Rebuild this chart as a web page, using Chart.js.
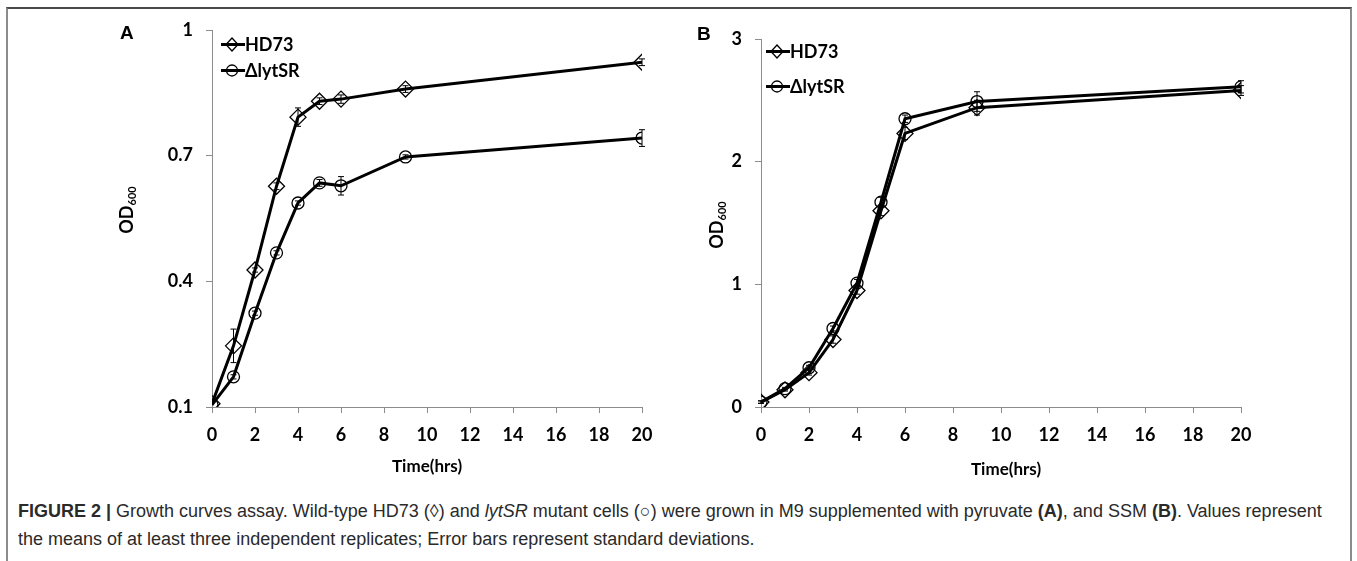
<!DOCTYPE html>
<html>
<head>
<meta charset="utf-8">
<script src="https://cdn.jsdelivr.net/npm/chart.js@4.4.1/dist/chart.umd.min.js"></script>
<style>
  body { margin: 0; width: 1357px; height: 561px; background: #fff; position: relative; overflow: hidden; font-family: "Lato", sans-serif; }
  .frame { position: absolute; left: 6px; top: 7px; width: 1342px; height: 560px; border-top: 2px solid #4a4a4a; border-left: 2px solid #8c8c8c; border-right: 2px solid #8c8c8c; }
  canvas { position: absolute; }
  .txt { position: absolute; font-weight: bold; color: #000; white-space: nowrap; }
  .letter { font-family: "Liberation Sans", Arial, sans-serif; font-size: 19px; }
  .ytitle { font-size: 18px; transform: translate(-50%, -50%) rotate(-90deg); }
  .ytitle sub { font-size: 11px; vertical-align: -3px; }
  .xtitle { font-size: 17px; transform: translate(-50%, -50%); }
  .leg { position: absolute; display: flex; align-items: center; font-weight: bold; font-size: 18px; }
  .caption { position: absolute; left: 18px; top: 497px; font-family: "Liberation Sans", Arial, sans-serif; font-size: 18px; line-height: 28px; color: #2a2a2a; width: 1335px; }
</style>
</head>
<body>
<div class="frame"></div>
<canvas id="chartA" width="570" height="460" style="left:100px;top:0px;"></canvas>
<canvas id="chartB" width="650" height="460" style="left:650px;top:0px;"></canvas>

<div class="txt letter" style="left:120px;top:22px;">A</div>
<div class="txt letter" style="left:697px;top:23px;">B</div>

<div class="txt ytitle" style="left:126px;top:210px;">OD<sub>600</sub></div>
<div class="txt ytitle" style="left:716px;top:225px;">OD<sub>600</sub></div>
<div class="txt xtitle" style="left:427px;top:465px;">Time(hrs)</div>
<div class="txt xtitle" style="left:1006px;top:468px;">Time(hrs)</div>

<div id="legA1" class="leg" style="left:221px;top:33px;"></div>
<div id="legA2" class="leg" style="left:221px;top:59px;"></div>
<div id="legB1" class="leg" style="left:766px;top:40px;"></div>
<div id="legB2" class="leg" style="left:766px;top:75px;"></div>

<div class="caption"><b>FIGURE 2 |</b> Growth curves assay. Wild-type HD73 (◊) and <i>lytSR</i> mutant cells (○) were grown in M9 supplemented with pyruvate <b>(A)</b>, and SSM <b>(B)</b>. Values represent<br>the means of at least three independent replicates; Error bars represent standard deviations.</div>

<script>
// sampling times (hrs)
const times = [0, 1, 2, 3, 4, 5, 6, 9, 20];
const seriesNames = ["HD73", "ΔlytSR"];

// panel A - pyruvate
const hd73A = [0.108, 0.246, 0.427, 0.627, 0.792, 0.830, 0.835, 0.859, 0.923];
const hd73AErr = [0, 0.04, 0.005, 0.008, 0.022, 0.008, 0.01, 0.008, 0.008];
const lytA = [0.105, 0.172, 0.324, 0.468, 0.587, 0.635, 0.628, 0.697, 0.742];
const lytAErr = [0, 0.005, 0.005, 0.005, 0.005, 0.008, 0.022, 0.005, 0.02];

// panel B - SSM
const hd73B = [0.04, 0.14, 0.28, 0.55, 0.95, 1.60, 2.23, 2.44, 2.58];
const hd73BErr = [0.01, 0.01, 0.02, 0.03, 0.03, 0.04, 0.05, 0.06, 0.04];
const lytB = [0.04, 0.15, 0.32, 0.64, 1.01, 1.67, 2.35, 2.49, 2.61];
const lytBErr = [0.01, 0.01, 0.02, 0.02, 0.03, 0.04, 0.03, 0.08, 0.05];

const xTicks = [0, 2, 4, 6, 8, 10, 12, 14, 16, 18, 20];
const yTicksA = [0.1, 0.4, 0.7, 1];
const yTicksB = [0, 1, 2, 3];

const tickFont = { family: "Lato", size: 18, weight: "bold" };

const toPoints = (ys) => times.map((t, i) => ({ x: t, y: ys[i] }));

// vertical error bars with caps
const errorBars = {
  id: "errorBars",
  afterDatasetsDraw(chart) {
    const ctx = chart.ctx;
    const ys = chart.scales.y;
    chart.data.datasets.forEach((ds, di) => {
      const meta = chart.getDatasetMeta(di);
      ctx.save();
      ctx.strokeStyle = "#000";
      ctx.lineWidth = 1;
      meta.data.forEach((pt, i) => {
        const e = ds.errors[i];
        if (!e) return;
        const v = ds.data[i].y;
        const top = ys.getPixelForValue(v + e);
        const bot = ys.getPixelForValue(v - e);
        ctx.beginPath();
        ctx.moveTo(pt.x, top); ctx.lineTo(pt.x, bot);
        ctx.moveTo(pt.x - 3, top); ctx.lineTo(pt.x + 3, top);
        ctx.moveTo(pt.x - 3, bot); ctx.lineTo(pt.x + 3, bot);
        ctx.stroke();
      });
      ctx.restore();
    });
  }
};

const makeDataset = (label, ys, errs, style, radius) => ({
  label: label,
  data: toPoints(ys),
  errors: errs,
  borderColor: "#000",
  borderWidth: 3,
  pointStyle: style,
  pointRadius: radius,
  pointBorderWidth: 1.3,
  pointBorderColor: "#000",
  pointBackgroundColor: "rgba(0,0,0,0)",
  tension: 0,
  fill: false
});

const makeChart = (id, datasets, yMin, yMax, yTicks, pad, yWidth) => {
  return new Chart(document.getElementById(id), {
    type: "line",
    data: { datasets: datasets },
    options: {
      responsive: false,
      animation: false,
      layout: { padding: pad },
      plugins: { legend: { display: false }, tooltip: { enabled: false } },
      scales: {
        x: {
          type: "linear",
          min: 0,
          max: 20,
          afterBuildTicks: (s) => { s.ticks = xTicks.map((v) => ({ value: v })); },
          afterFit: (s) => { s.height = 40; },
          ticks: { font: tickFont, color: "#000", padding: 11, maxRotation: 0 },
          grid: { drawOnChartArea: false, drawTicks: true, tickLength: 6, color: "#8c8c8c" },
          border: { color: "#8c8c8c", width: 1 }
        },
        y: {
          min: yMin,
          max: yMax,
          afterBuildTicks: (s) => { s.ticks = yTicks.map((v) => ({ value: v })); },
          afterFit: (s) => { s.width = yWidth; },
          ticks: { font: tickFont, color: "#000", padding: 13, callback: (v) => String(v) },
          grid: { drawOnChartArea: false, drawTicks: true, tickLength: 6, color: "#8c8c8c" },
          border: { color: "#8c8c8c", width: 1 }
        }
      }
    },
    plugins: [errorBars]
  });
};

makeChart("chartA", [
  makeDataset(seriesNames[0], hd73A, hd73AErr, "rectRot", 8),
  makeDataset(seriesNames[1], lytA, lytAErr, "circle", 6)
], 0.1, 1, yTicksA, { left: 0, top: 30, right: 28, bottom: 13 }, 112);

makeChart("chartB", [
  makeDataset(seriesNames[0], hd73B, hd73BErr, "rectRot", 8),
  makeDataset(seriesNames[1], lytB, lytBErr, "circle", 6)
], 0, 3, yTicksB, { left: 0, top: 39, right: 59, bottom: 13 }, 111);

// legend entries: line with marker, then name
const legendIcon = (shape) => {
  const mark = shape === "diamond"
    ? '<polygon points="11,3 17,9.5 11,16 5,9.5" fill="none" stroke="#000" stroke-width="1.3"/>'
    : '<circle cx="11" cy="9.5" r="5.5" fill="none" stroke="#000" stroke-width="1.3"/>';
  return '<svg width="24" height="19"><line x1="0" y1="9.5" x2="24" y2="9.5" stroke="#000" stroke-width="3"/>' + mark + "</svg>";
};
const fillLegend = (id, shape, name) => {
  document.getElementById(id).innerHTML = legendIcon(shape) + "<span>" + name + "</span>";
};
fillLegend("legA1", "diamond", seriesNames[0]);
fillLegend("legA2", "circle", seriesNames[1]);
fillLegend("legB1", "diamond", seriesNames[0]);
fillLegend("legB2", "circle", seriesNames[1]);
</script>
</body>
</html>
